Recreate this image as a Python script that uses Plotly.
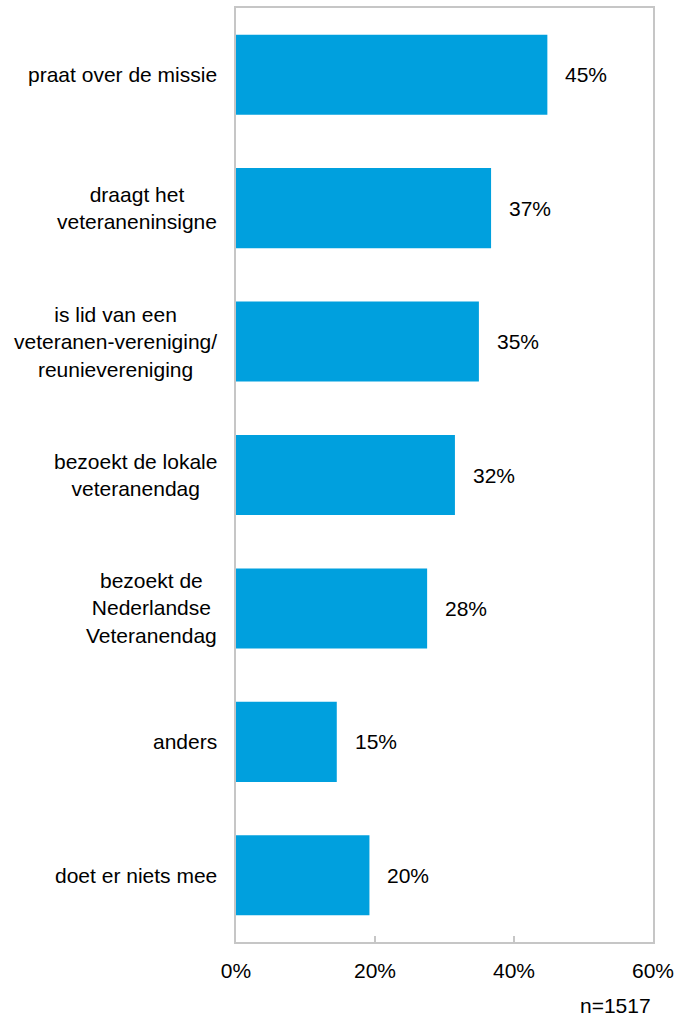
import plotly.graph_objects as go

categories = [
    "praat over de missie",
    "draagt het<br>veteraneninsigne",
    "is lid van een<br>veteranen-vereniging/<br>reunievereniging",
    "bezoekt de lokale<br>veteranendag",
    "bezoekt de<br>Nederlandse<br>Veteranendag",
    "anders",
    "doet er niets mee",
]
values = [44.8, 36.7, 34.95, 31.5, 27.5, 14.5, 19.2]
value_labels = ["45%", "37%", "35%", "32%", "28%", "15%", "20%"]
x_tickvals = [0, 20, 40, 60]
x_ticktext = ["0%", "20%", "40%", "60%"]
note = "n=1517"

FONT = "Liberation Sans, Arial, sans-serif"
GRID = "#c6c6c6"

fig = go.Figure()
fig.add_trace(go.Bar(
    x=values, y=categories, orientation="h",
    marker=dict(color="#00A0DE", line=dict(width=0)),
    width=0.6, hoverinfo="skip",
))

annotations = []
for c, v, t in zip(categories, values, value_labels):
    annotations.append(dict(
        x=v, y=c, xref="x", yref="y", text=t, showarrow=False,
        xanchor="left", yanchor="middle", xshift=16,
        font=dict(family=FONT, size=21, color="#000000"),
    ))
    annotations.append(dict(
        x=0, y=c, xref="paper", yref="y", text=c, showarrow=False,
        xanchor="right", yanchor="middle", align="center", xshift=-17,
        font=dict(family=FONT, size=21, color="#000000"),
    ))
annotations.append(dict(
    x=1, y=0, xref="paper", yref="paper", text=note, showarrow=False,
    xanchor="right", yanchor="top", xshift=0, yshift=-50,
    font=dict(family=FONT, size=21, color="#000000"),
))

fig.update_layout(
    width=680, height=1016,
    margin=dict(l=236, r=25, t=6, b=74),
    paper_bgcolor="white", plot_bgcolor="white",
    showlegend=False,
    annotations=annotations,
    bargap=0.4,
)
fig.update_xaxes(
    range=[0, 60], tickvals=x_tickvals, ticktext=x_ticktext,
    showgrid=False, zeroline=False,
    showline=True, linecolor=GRID, linewidth=2, mirror=True,
    ticks="inside", ticklen=6, tickcolor=GRID, tickwidth=2,
    tickfont=dict(family=FONT, size=21, color="#000000"),
    ticklabelstandoff=9,
)
fig.update_yaxes(
    categoryorder="array", categoryarray=categories, autorange="reversed",
    showticklabels=False, showgrid=False, zeroline=False,
    showline=True, linecolor=GRID, linewidth=2, mirror=True, ticks="",
)

fig.write_html(
    "out.html",
    config={"displayModeBar": False},
    post_script="document.body.style.margin='0';document.body.style.padding='0';",
)
